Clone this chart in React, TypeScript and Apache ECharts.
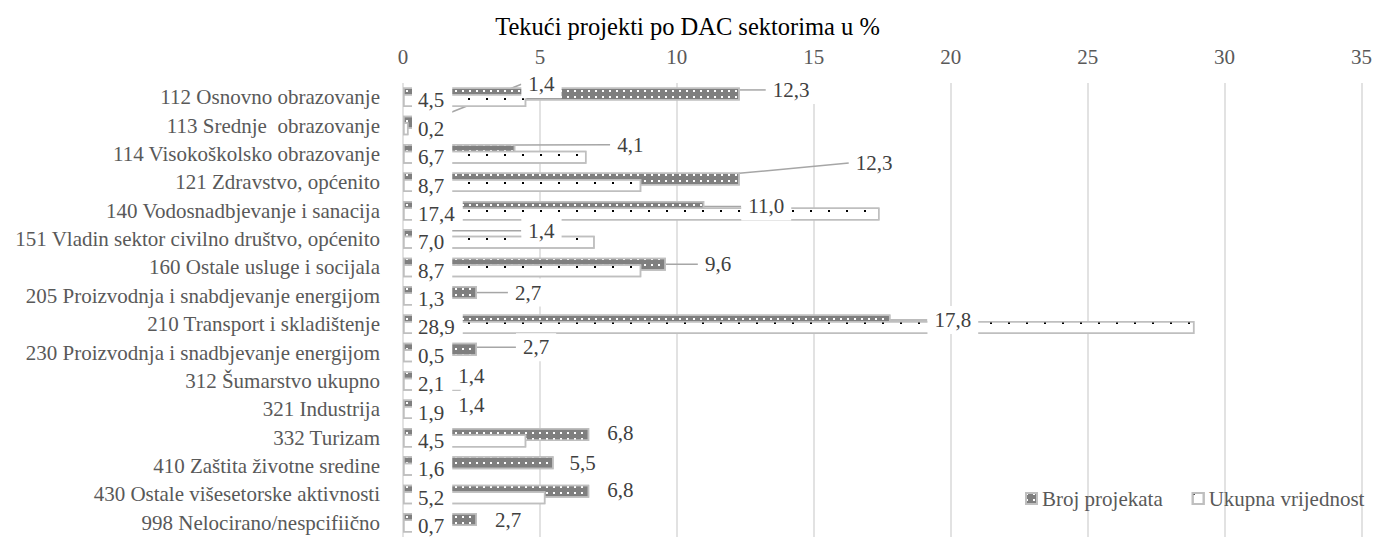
import React, { useEffect, useRef } from "react";
import * as echarts from "echarts";

const TITLE = "Tekući projekti po DAC sektorima u %";

const CATEGORIES = [
  "112 Osnovno obrazovanje",
  "113 Srednje  obrazovanje",
  "114 Visokoškolsko obrazovanje",
  "121 Zdravstvo, općenito",
  "140 Vodosnadbjevanje i sanacija",
  "151 Vladin sektor civilno društvo, općenito",
  "160 Ostale usluge i socijala",
  "205 Proizvodnja i snabdjevanje energijom",
  "210 Transport i skladištenje",
  "230 Proizvodnja i snadbjevanje energijom",
  "312 Šumarstvo ukupno",
  "321 Industrija",
  "332 Turizam",
  "410 Zaštita životne sredine",
  "430 Ostale višesetorske aktivnosti",
  "998 Nelocirano/nespcifiično",
];

const SERIES_NAMES = ["Broj projekata", "Ukupna vrijednost"];

const BROJ_PROJEKATA = [12.3, 1.4, 4.1, 12.3, 11.0, 1.4, 9.6, 2.7, 17.8, 2.7, 1.4, 1.4, 6.8, 5.5, 6.8, 2.7];
const UKUPNA_VRIJEDNOST = [4.5, 0.2, 6.7, 8.7, 17.4, 7.0, 8.7, 1.3, 28.9, 0.5, 2.1, 1.9, 4.5, 1.6, 5.2, 0.7];

const X_MIN = 0;
const X_MAX = 35;
const X_INTERVAL = 5;

// label placement (layout only)
const BROJ_LABEL_DX = [21, 75, 90, 104, 32, 75, 27, 26, 32, 34, 5, 5, 6, 4, 6, 6];
const BROJ_LABEL_DY = [-4, -38, -6, -16, -1, -5, 0, 0, -1, -2, -2, -1, -1, 0, -1, 0];
const BROJ_LEADER = [true, true, true, true, true, true, true, true, true, true, false, false, false, false, false, false];

const FONT = "'Liberation Serif', 'Times New Roman', serif";
const fmt = (p: any) => Number(p.value).toFixed(1).replace(".", ",");

export default function App() {
  const ref = useRef<HTMLDivElement>(null);
  useEffect(() => {
    if (!ref.current) return;
    const chart = echarts.init(ref.current, undefined, { renderer: "svg" });
    chart.setOption({
      animation: false,
      backgroundColor: "#ffffff",
      title: {
        text: TITLE,
        left: "center",
        top: 9,
        textStyle: { fontFamily: FONT, fontSize: 24.5, fontWeight: "normal", color: "#000000" },
      },
      legend: {
        data: SERIES_NAMES,
        left: 1020,
        top: 483,
        icon: "rect",
        itemWidth: 11,
        itemHeight: 11,
        itemGap: 29,
        textStyle: { fontFamily: FONT, fontSize: 21, color: "#595959" },
      },
      grid: { left: 403, right: 13, top: 83, bottom: -3.5, containLabel: false },
      xAxis: {
        type: "value",
        position: "top",
        min: X_MIN,
        max: X_MAX,
        interval: X_INTERVAL,
        axisLine: { show: false },
        axisTick: { show: false },
        axisLabel: { fontFamily: FONT, fontSize: 21, color: "#595959", margin: 16 },
        splitLine: { show: true, lineStyle: { color: "#d9d9d9", width: 1.5 } },
      },
      yAxis: {
        type: "category",
        data: CATEGORIES,
        inverse: true,
        axisLine: { show: false },
        axisTick: { show: false },
        axisLabel: { fontFamily: FONT, fontSize: 21, color: "#595959", margin: 23 },
        splitLine: { show: false },
      },
      series: [
        {
          name: SERIES_NAMES[0],
          type: "bar",
          barWidth: 13,
          barGap: "-50%",
          data: BROJ_PROJEKATA.map((v, i) => ({ value: v, labelLine: { show: BROJ_LEADER[i] } })),
          itemStyle: {
            color: "#7f7f7f",
            borderColor: "#bfbfbf",
            borderWidth: 1.5,
            decal: {
              symbol: "rect",
              symbolSize: 1,
              color: "#ffffff",
              dashArrayX: [1.5, 4.2],
              dashArrayY: [1.5, 3.5],
            },
          },
          label: {
            show: true,
            position: "right",
            distance: 5,
            formatter: fmt,
            fontFamily: FONT,
            fontSize: 21,
            color: "#404040",
            backgroundColor: "#ffffff",
            padding: [3, 7, 3, 7],
            lineHeight: 22,
          },
          labelLine: { show: true, lineStyle: { color: "#a6a6a6", width: 1.5 } },
          labelLayout: (params: any) => ({
            dx: BROJ_LABEL_DX[params.dataIndex],
            dy: BROJ_LABEL_DY[params.dataIndex],
          }),
        },
        {
          name: SERIES_NAMES[1],
          type: "bar",
          barWidth: 13,
          barGap: "-50%",
          data: UKUPNA_VRIJEDNOST,
          itemStyle: {
            color: "#ffffff",
            borderColor: "#bfbfbf",
            borderWidth: 1.5,
            decal: {
              symbol: "rect",
              symbolSize: 1,
              color: "#000000",
              dashArrayX: [1.5, 16],
              dashArrayY: [1.5, 12],
            },
          },
          label: {
            show: true,
            position: "insideLeft",
            distance: 9,
            formatter: fmt,
            fontFamily: FONT,
            fontSize: 21,
            color: "#404040",
            backgroundColor: "#ffffff",
            padding: [4, 8, 3, 6],
            lineHeight: 22,
          },
        },
      ],
    });
    return () => chart.dispose();
  }, []);
  return (
    <div
      ref={ref}
      style={{ position: "absolute", left: 0, top: 0, width: 1375, height: 537 }}
    />
  );
}
